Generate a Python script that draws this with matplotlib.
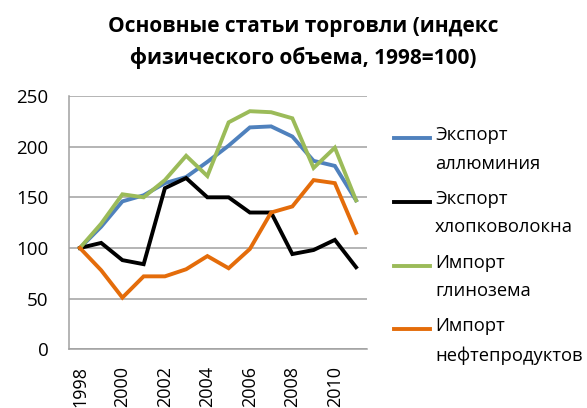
import numpy as np
import matplotlib
matplotlib.use('Agg')
import matplotlib.pyplot as plt
from matplotlib.lines import Line2D

plt.rcParams['font.family'] = ['Open Sans', 'DejaVu Sans']

# data
years = list(range(1998, 2012))
export_aluminium = [100, 121, 146, 152, 164, 170, 185, 201, 219, 220, 210, 186, 181, 147]
export_cotton = [100, 105, 88, 84, 159, 169, 150, 150, 135, 135, 94, 98, 108, 81]
import_alumina = [100, 124, 153, 150, 167, 191, 171, 224, 235, 234, 228, 179, 199, 147]
import_oil = [100, 78, 51, 72, 72, 79, 92, 80, 99, 135, 141, 167, 164, 115]

series_names = ['Экспорт\nаллюминия', 'Экспорт\nхлопковолокна',
                'Импорт\nглинозема', 'Импорт\nнефтепродуктов']
series_values = [export_aluminium, export_cotton, import_alumina, import_oil]
series_colors = ['#4F81BD', '#000000', '#9BBB59', '#E46C0A']

title = 'Основные статьи торговли (индекс\nфизического объема, 1998=100)'
yticks = [0, 50, 100, 150, 200, 250]

fig = plt.figure(figsize=(5.87, 4.08), dpi=100)
ax = fig.add_axes([69.3 / 587, 1 - 349.3 / 408, (366.7 - 69.3) / 587, (349.3 - 96) / 408])

x = np.arange(len(years))
for vals, col in zip(series_values, series_colors):
    ax.plot(x, vals, color=col, lw=2.8, solid_joinstyle='miter', zorder=3)

ax.set_xlim(-0.5, len(years) - 0.5)
ax.set_ylim(0, 250)
ax.set_yticks(yticks)
ax.set_xticks(x[::2])
ax.set_xticklabels([str(y) for y in years[::2]], rotation=90, va='top')
ax.tick_params(axis='both', length=0, labelsize=13.5)
ax.tick_params(axis='x', labelsize=13, pad=12)
ax.tick_params(axis='y', pad=15)
ax.grid(axis='y', color='#A0A0A0', lw=1.1, zorder=1)
for s in ['top', 'right']:
    ax.spines[s].set_visible(False)
for s in ['left', 'bottom']:
    ax.spines[s].set_color('#A0A0A0')
    ax.spines[s].set_linewidth(1.1)

fig.text(303 / 587, 1 - 16 / 408, title, ha='center', va='top', fontsize=15,
         fontweight='bold', linespacing=1.6)

# legend: key line next to the first line of each label
for i, (name, col) in enumerate(zip(series_names, series_colors)):
    yk = 1 - (138.3 + i * 63.7) / 408
    fig.add_artist(Line2D([394 / 587, 430 / 587], [yk, yk], transform=fig.transFigure,
                          color=col, lw=2.8))
    fig.text(435 / 587, yk + 12 / 408, name, ha='left', va='top', fontsize=13.2,
             linespacing=1.75)

fig.savefig('out.png', dpi=100)
